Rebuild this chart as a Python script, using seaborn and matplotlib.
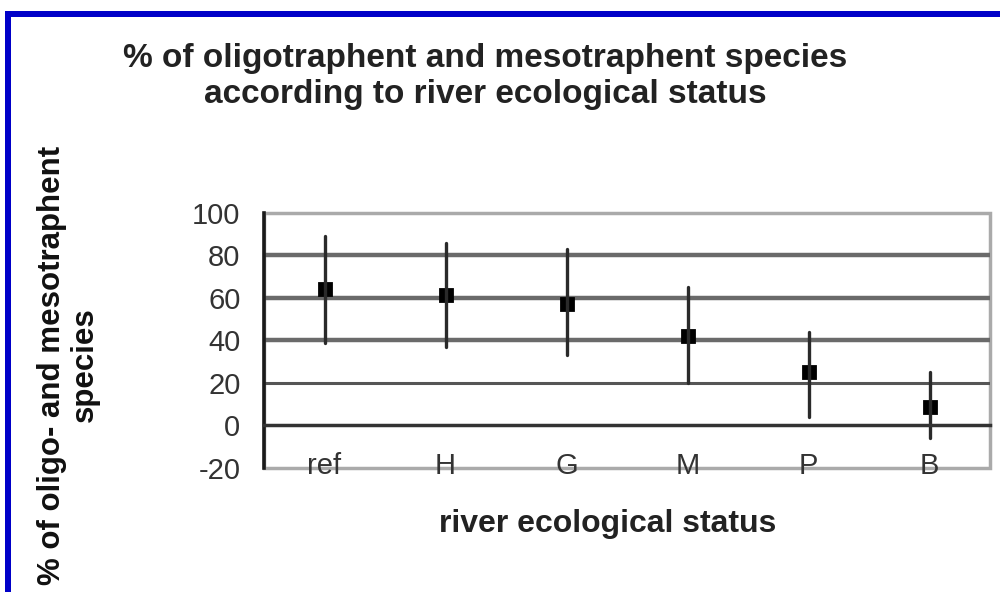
import numpy as np
import pandas as pd
import seaborn as sns
import matplotlib
matplotlib.use('Agg')
import matplotlib.pyplot as plt
from matplotlib.patches import Rectangle

# data

categories = ['ref', 'H', 'G', 'M', 'P', 'B']
means = [64, 61.5, 57, 42, 25, 8.5]
upper = [89, 86, 83, 65, 44, 25]
lower = [39, 37, 33, 20, 4, -6]
y_ticks = [-20, 0, 20, 40, 60, 80, 100]

title = '% of oligotraphent and mesotraphent species\naccording to river ecological status'
y_label = '% of oligo- and mesotraphent\nspecies'
x_label = 'river ecological status'

# long form: the median of (lower, mean, upper) is the mean, pi 100 gives min..max
rows = []
for cat, lo, mid, hi in zip(categories, lower, means, upper):
    for v in (lo, mid, hi):
        rows.append({'status': cat, 'value': v})
df = pd.DataFrame(rows)

sns.set_style('white')
plt.rcParams['font.family'] = ['Liberation Sans', 'DejaVu Sans']
plt.rcParams['axes.unicode_minus'] = False

fig = plt.figure(figsize=(10, 5.92), dpi=100)
ax = fig.add_axes([0.264, 0.2095, 0.726, 0.4307])

sns.pointplot(data=df, x='status', y='value', order=categories, estimator='median',
              errorbar=('pi', 100), linestyle='none', marker='s', color='black',
              markersize=8, err_kws={'linewidth': 2.4, 'color': '#2a2a2a'}, ax=ax)

ax.set_xlim(-0.5, len(categories) - 0.5)
ax.set_ylim(y_ticks[0], y_ticks[-1])

# plot area frame (light grey)
ax.patch.set_edgecolor('#aaaaaa')
ax.patch.set_linewidth(2.5)
for side in ['top', 'right']:
    ax.spines[side].set_visible(False)
ax.spines['left'].set_color('#1a1a1a')
ax.spines['left'].set_linewidth(2.6)
ax.spines['bottom'].set_position(('data', 0))
ax.spines['bottom'].set_color('#333333')
ax.spines['bottom'].set_linewidth(2.5)

# y axis
ax.set_yticks(y_ticks)
ax.tick_params(axis='y', direction='out', length=7, width=2.5, color='#444444',
               labelsize=21, labelcolor='#333333', pad=10)
ax.yaxis.grid(True)
for gl, val in zip(ax.get_ygridlines(), y_ticks):
    if val in (y_ticks[0], y_ticks[-1], 0):
        gl.set_visible(False)
    elif val == 20:
        gl.set_color('#555555')
        gl.set_linewidth(2.2)
    else:
        gl.set_color('#6a6a6a')
        gl.set_linewidth(3.2)

# x axis: tick marks between categories on the zero line, labels low
bounds = np.arange(len(categories)) + 0.5
ax.set_xticks(bounds, labels=[''] * len(bounds))
ax.tick_params(axis='x', which='major', direction='inout', length=18, width=2,
               color='#333333')
ax.set_xticks(np.arange(len(categories)), labels=categories, minor=True)
ax.tick_params(axis='x', which='minor', length=0, labelsize=21,
               labelcolor='#333333', pad=19)

ax.set_xlabel(x_label, fontsize=23, fontweight='bold', color='#222222')
ax.xaxis.set_label_coords(0.474, -0.16)
ax.set_ylabel(y_label, fontsize=22.5, fontweight='bold', color='#111111', linespacing=1.12)
ax.yaxis.set_label_coords(-0.226, 0.404)

fig.suptitle(title, x=0.485, y=0.928, va='top', fontsize=24, fontweight='bold',
             color='#222222', linespacing=1.22)

# blue frame around the picture (top and left edges)
fig.add_artist(Rectangle((0.005, 1 - 17 / 592), 0.995, 6 / 592, transform=fig.transFigure,
                         color='#0000c8', lw=0))
fig.add_artist(Rectangle((0.005, 0), 0.006, 1 - 11 / 592, transform=fig.transFigure,
                         color='#0000c8', lw=0))

fig.savefig('out.png', dpi=100)
